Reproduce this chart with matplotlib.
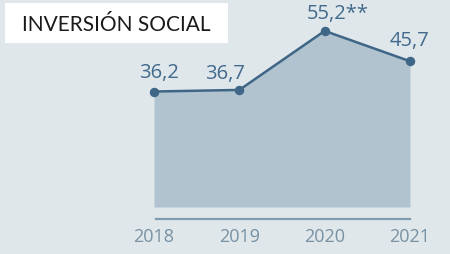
import matplotlib
matplotlib.use("Agg")
import matplotlib.pyplot as plt
from matplotlib.patches import Rectangle

years = ["2018", "2019", "2020", "2021"]
values = [36.2, 36.7, 55.2, 45.7]
labels = ["36,2", "36,7", "55,2**", "45,7"]
title = "INVERSIÓN SOCIAL"

BG = "#dfe7eb"
FILL = "#b0c3cf"
LINE = "#3f6687"
LABEL = "#41698c"
TICK = "#7891a3"
BASE = "#7f9bad"

W, H = 450, 255
fig = plt.figure(figsize=(W / 100, H / 100), dpi=100)
fig.patch.set_facecolor(BG)

ax = fig.add_axes([0, 35 / H, 1, 220 / H])
ax.set_facecolor(BG)
x = list(range(len(values)))
ppu = 85.33
ax.set_xlim(-154 / ppu, 3 + 40 / ppu)
ax.set_ylim(-12 / 3.19, 220 / 3.19 - 12 / 3.19)

ax.fill_between(x, 0, values, color=FILL, linewidth=0)
ax.plot(x, values, color=LINE, lw=1.8, marker="o", ms=5.8, zorder=3)

dx = [5, -14, 13, 0]
dy = [20, 17, 18, 21]
for xi, v, lab, ox, oy in zip(x, values, labels, dx, dy):
    ax.annotate(lab, (xi, v), xytext=(ox, oy), textcoords="offset pixels",
                ha="center", va="center", fontsize=14.5, color=LABEL,
                family="Open Sans", fontweight="medium")

for s in ["top", "left", "right"]:
    ax.spines[s].set_visible(False)
ax.spines["bottom"].set_color(BASE)
ax.spines["bottom"].set_linewidth(1.6)
ax.spines["bottom"].set_bounds(0.02, 3)
ax.set_yticks([])
ax.set_xticks(x)
ax.set_xticklabels(years, fontsize=13, color=TICK, family="Open Sans")
ax.tick_params(axis="x", length=0, pad=6)

fig.patches.append(Rectangle((5 / W, 1 - 44 / H), 223 / W, 40 / H,
                             transform=fig.transFigure, facecolor="white",
                             edgecolor="none", zorder=5))
fig.text(116 / W, 1 - 25 / H, title, ha="center", va="center", fontsize=15,
         color="#1a1a1a", family="Lato", zorder=6)

fig.savefig("out.png", dpi=100, facecolor=BG)
